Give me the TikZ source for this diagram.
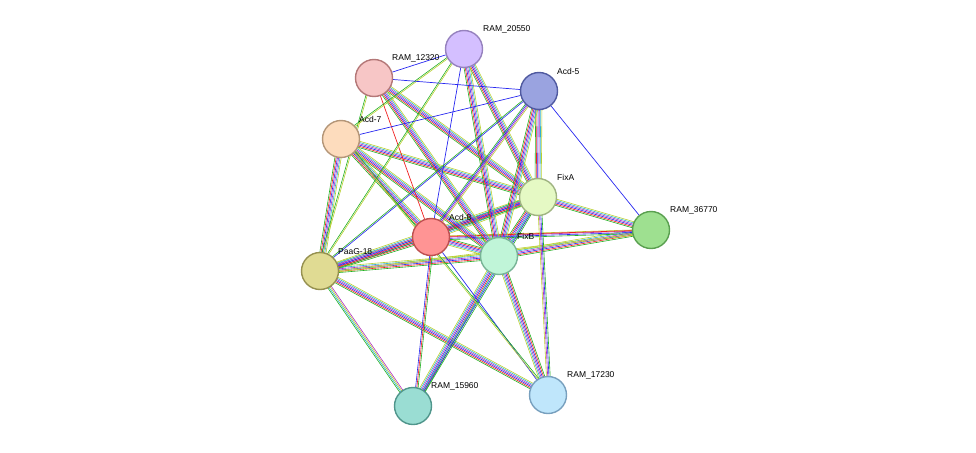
\documentclass[tikz,border=0pt]{standalone}
\usepackage{fontspec}
\setmainfont{Liberation Sans}
\usetikzlibrary{calc}
\pgfdeclarelayer{bg}\pgfsetlayers{bg,main}
\definecolor{sg}{HTML}{22B022}\definecolor{sr}{HTML}{F02020}\definecolor{sb}{HTML}{2828F0}
\definecolor{sv}{HTML}{B030C0}\definecolor{sc}{HTML}{30B0D0}\definecolor{sy}{HTML}{B8D030}
\newcommand\myE[3]{\foreach \c [count=\i] in #3 {\pgfmathsetmacro\o{(\i-3.5)*1.25}
 \draw[color=\c,line width=0.6pt] ($(#1)!\o pt!90:(#2)$) -- ($(#2)!\o pt!-90:(#1)$);}}
\newcommand\myS[3]{\draw[#3,line width=0.7pt] (#1) -- (#2);}
\def\myF{sg,sr,sb,sv,sc,sy}
\def\myT{sg,sb,sv,sy}
\def\myA{sg,sy}
\def\myB{sg,sc,sy,sv}
\def\myC{sg,sb,sc}
\def\myD{sg,sr,sb}
\def\myG{sy,sy}
\def\myH{sg,sb}
\begin{document}
\begin{tikzpicture}[x=1pt,y=-1pt,
 pn/.style={circle,draw,line width=1.4pt,minimum size=37pt,inner sep=0pt},
 lb/.style={font=\fontsize{8.5}{10}\selectfont,anchor=south west,inner sep=1pt}]
\useasboundingbox (0,0) rectangle (976,452);
\node[pn,fill={rgb,255:red,212;green,191;blue,255},draw={rgb,255:red,150;green,130;blue,190}] (r20550) at (464,49) {};
\node[pn,fill={rgb,255:red,247;green,198;blue,198},draw={rgb,255:red,180;green,120;blue,120}] (r12320) at (374,78) {};
\node[pn,fill={rgb,255:red,154;green,163;blue,224},draw={rgb,255:red,80;green,90;blue,160}] (acd5) at (539,91) {};
\node[pn,fill={rgb,255:red,253;green,220;blue,189},draw={rgb,255:red,180;green,150;blue,120}] (acd7) at (341,139) {};
\node[pn,fill={rgb,255:red,229;green,249;blue,196},draw={rgb,255:red,160;green,180;blue,130}] (fixa) at (538,197) {};
\node[pn,fill={rgb,255:red,158;green,224;blue,144},draw={rgb,255:red,90;green,160;blue,80}] (r36770) at (651,230) {};
\node[pn,fill={rgb,255:red,255;green,148;blue,148},draw={rgb,255:red,190;green,80;blue,80}] (acd8) at (431,237) {};
\node[pn,fill={rgb,255:red,192;green,245;blue,216},draw={rgb,255:red,120;green,180;blue,150}] (fixb) at (499,256) {};
\node[pn,fill={rgb,255:red,224;green,219;blue,147},draw={rgb,255:red,150;green,145;blue,80}] (paag) at (320,271) {};
\node[pn,fill={rgb,255:red,154;green,221;blue,211},draw={rgb,255:red,80;green,150;blue,140}] (r15960) at (413,406) {};
\node[pn,fill={rgb,255:red,191;green,230;blue,251},draw={rgb,255:red,120;green,160;blue,190}] (r17230) at (548,395) {};
\begin{pgfonlayer}{bg}
\myE{fixa}{fixb}{\myF}\myE{fixa}{acd8}{\myF}\myE{fixb}{acd8}{\myF}\myE{fixa}{r36770}{\myF}\myE{fixb}{r36770}{\myF}
\myE{acd8}{r36770}{\myT}\myS{acd8}{r36770}{sr}
\myE{paag}{acd8}{\myF}\myE{paag}{fixb}{\myF}\myE{paag}{fixa}{\myF}\myE{paag}{r36770}{\myG}\myE{paag}{r15960}{\myB}\myE{paag}{r17230}{\myF}
\myE{acd7}{fixa}{\myF}\myE{acd7}{fixb}{\myF}\myE{acd7}{acd8}{\myF}\myE{acd7}{paag}{\myF}
\myE{r12320}{fixa}{\myF}\myE{r12320}{fixb}{\myF}\myE{r12320}{paag}{\myA}\myS{r12320}{acd8}{sr}
\myE{r20550}{fixa}{\myF}\myE{r20550}{fixb}{\myF}\myE{r20550}{paag}{\myA}\myE{r20550}{acd7}{\myA}\myS{r20550}{acd8}{sb}
\myE{acd5}{fixa}{\myF}\myE{acd5}{fixb}{\myF}\myE{acd5}{acd8}{\myT}\myE{acd5}{paag}{\myH}
\myS{acd5}{r36770}{sb}\myS{acd5}{acd7}{sb}\myS{acd5}{r12320}{sb}\myS{r20550}{r12320}{sb}
\myE{r15960}{fixb}{\myF}\myE{r15960}{fixa}{\myC}\myE{r15960}{acd8}{\myD}
\myE{r17230}{fixb}{\myF}\myE{r17230}{fixa}{\myT}\myS{r17230}{acd8}{sb}\myE{r17230}{acd7}{\myA}
\end{pgfonlayer}
\node[lb] (t1) at (482,34) {RAM\_20550};
\node[lb] (t2) at (391,63) {RAM\_12320};
\node[lb] (t3) at (556,76) {Acd-5};
\node[lb] (t4) at (358,124) {Acd-7};
\node[lb] (t5) at (556,182) {FixA};
\node[lb] (t6) at (669,215) {RAM\_36770};
\node[lb] (t7) at (448,222) {Acd-8};
\node[lb] (t8) at (516,241) {FixB};
\node[lb] (t9) at (337,256) {PaaG-18};
\node[lb] (t10) at (430,391) {RAM\_15960};
\node[lb] (t11) at (566,380) {RAM\_17230};
\end{tikzpicture}
\end{document}
